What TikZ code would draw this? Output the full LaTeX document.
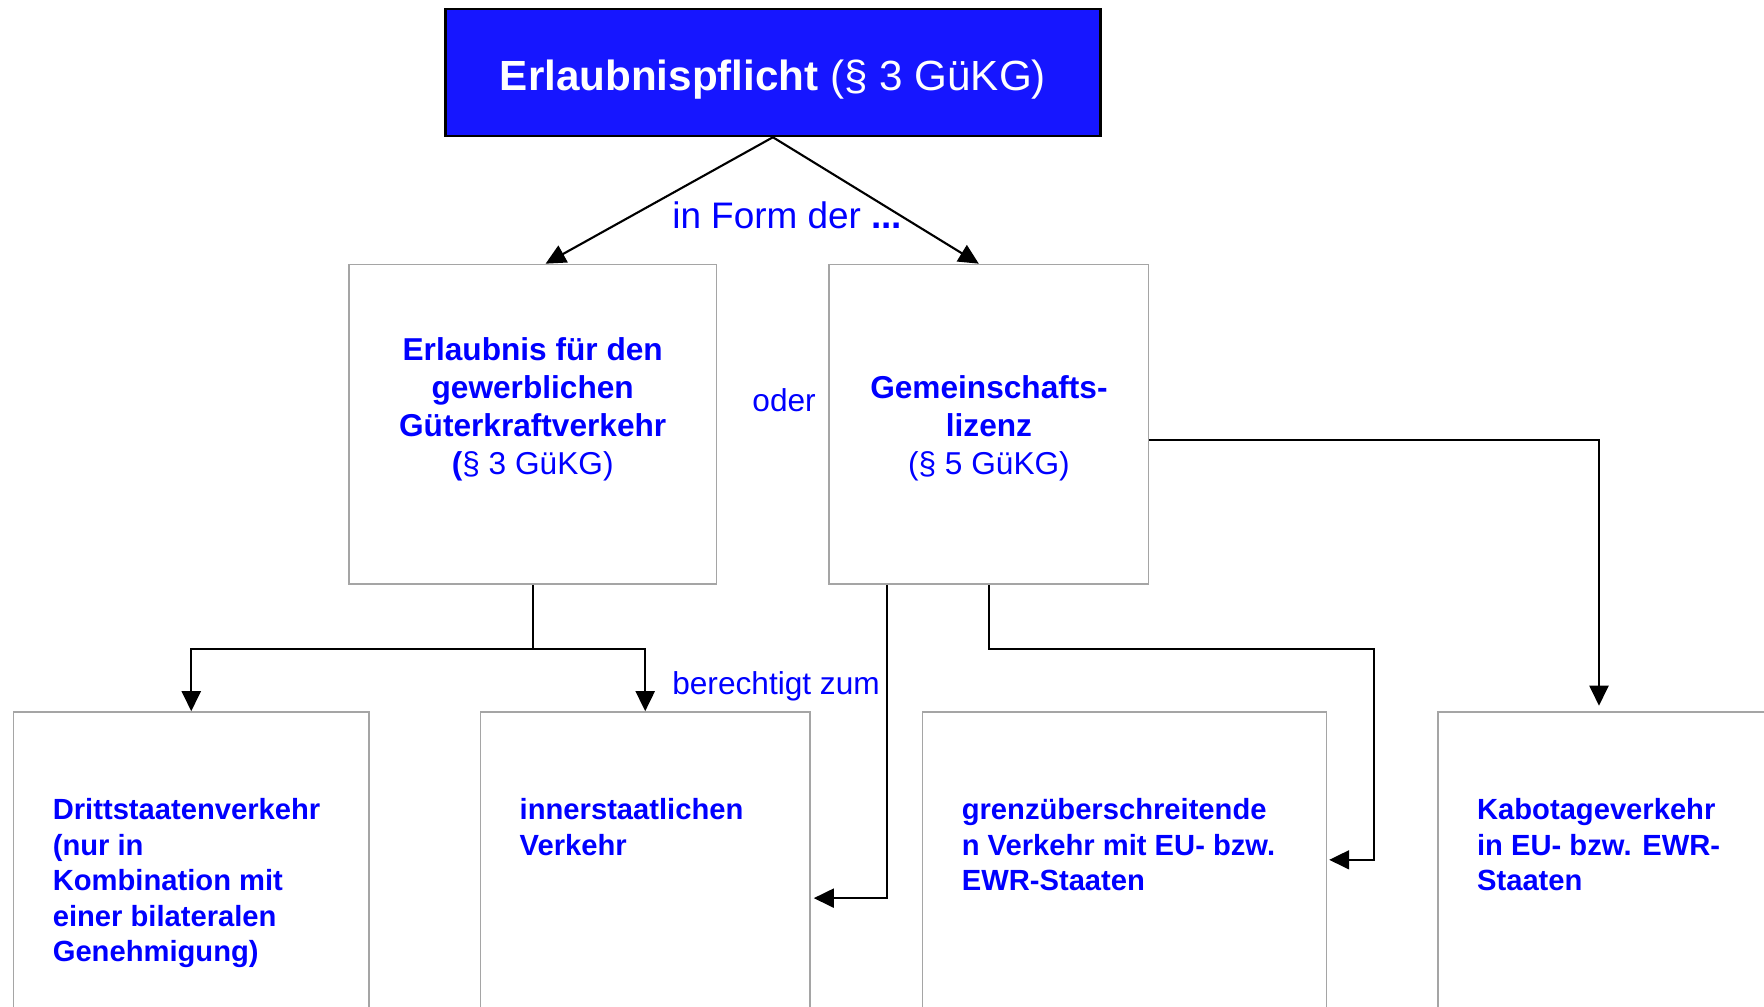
\documentclass[tikz,border=0pt]{standalone}
\usepackage{fontspec}
\setmainfont{Liberation Sans}
\usetikzlibrary{arrows.meta}
\definecolor{headblue}{RGB}{22,22,255}
\definecolor{textblue}{RGB}{0,0,255}
\definecolor{boxgray}{RGB}{165,165,165}
\pgfkeys{tikz/headbox/.style={draw=black, line width=0.7pt, fill=headblue, text=white,
                                  minimum width=6.55cm, minimum height=1.27cm, inner sep=0pt,
                                  text height=10pt, text depth=0pt,
                                  font=\fontsize{12pt}{14pt}\selectfont}}
\pgfkeys{tikz/graybox/.style={draw=boxgray, line width=0.45pt, fill=white, inner sep=0pt}}
\pgfkeys{tikz/midtext/.style={text=textblue, align=center, inner sep=0pt, anchor=north,
                                  font=\fontsize{9pt}{10.85pt}\selectfont}}
\pgfkeys{tikz/lowtext/.style={text=textblue, align=left, inner sep=0pt, anchor=north west,
                                  font=\bfseries\fontsize{8.3pt}{10.1pt}\selectfont}}
\pgfkeys{tikz/note/.style={text=textblue, inner sep=0pt,
                               font=\fontsize{9pt}{10.85pt}\selectfont}}
\pgfkeys{tikz/conn/.style={line width=0.6pt, -{Triangle[length=5.7pt,width=5.4pt]}}}

\begin{document}
\begin{tikzpicture}
                \useasboundingbox (0,0) rectangle (17.64,-10.06);
                \clip (0,0) rectangle (17.64,-10.06);

                \node[headbox] (pflicht) at (7.729,-0.725) {\textbf{Erlaubnispflicht} (§ 3 GüKG)};

                \node[graybox, minimum width=3.679cm, minimum height=3.195cm] (erlaubnis) at (5.327,-4.242) {};
                \node[graybox, minimum width=3.195cm, minimum height=3.195cm] (lizenz) at (9.889,-4.242) {};

                \node[midtext] (erlaubnislbl) at ([yshift=8.73mm]erlaubnis.center)
                    {\textbf{Erlaubnis für den}\\\textbf{gewerblichen}\\\textbf{Güterkraftverkehr}\\\textbf{(}§ 3 GüKG)};
                \node[midtext] (lizenzlbl) at ([yshift=4.92mm]lizenz.center)
                    {\textbf{Gemeinschafts-}\\\textbf{lizenz}\\(§ 5 GüKG)};

                \draw[conn] (pflicht.south) -- ([xshift=1.29mm]erlaubnis.north);
                \draw[conn] (pflicht.south) -- ([xshift=-1.01mm]lizenz.north);

                \node[note, anchor=base west, font=\fontsize{10.5pt}{12pt}\selectfont] (formlbl) at (6.716,-2.284) {in Form der \textbf{...}};
                \node[note, anchor=base] (oderlbl) at (7.841,-4.1175) {oder};

                \node[graybox, minimum width=3.555cm, minimum height=3.2cm] (dritt) at (1.9125,-8.72) {};
                \node[graybox, minimum width=3.296cm, minimum height=3.2cm] (inner) at (6.452,-8.72) {};
                \node[graybox, minimum width=4.039cm, minimum height=3.2cm] (grenz) at (11.2445,-8.72) {};
                \node[graybox, minimum width=3.5225cm, minimum height=3.2cm] (kabo) at (16.139,-8.72) {};

                \node[lowtext] (drittlbl) at ([xshift=3.94mm,yshift=-8.67mm]dritt.north west)
                    {Drittstaatenverkehr\\(nur in\\Kombination mit\\einer bilateralen\\Genehmigung)};
                \node[lowtext] (innerlbl) at ([xshift=3.94mm,yshift=-8.67mm]inner.north west)
                    {innerstaatlichen\\Verkehr};
                \node[lowtext] (grenzlbl) at ([xshift=3.94mm,yshift=-8.67mm]grenz.north west)
                    {grenzüberschreitende\\n Verkehr mit EU- bzw.\\EWR-Staaten};
                \node[lowtext] (kabolbl) at ([xshift=3.94mm,yshift=-8.67mm]kabo.north west)
                    {Kabotageverkehr\\in EU- bzw. EWR-\\Staaten};

                \coordinate (splitL) at ([yshift=-6.41mm]erlaubnis.south);
                \draw[line width=0.6pt] (erlaubnis.south) -- (splitL);
                \draw[conn] (splitL) -| (dritt.north);
                \draw[conn] (splitL) -| (inner.north);

                \node[note, anchor=base west] (zumlbl) at (6.716,-6.94) {berechtigt zum};

                \draw[conn] ([xshift=5.85mm]lizenz.south west) |- ([xshift=0.3mm,yshift=-18.69mm]inner.north east);
                \draw[conn] (lizenz.south) |- ++(3.847,-0.641) |- ([xshift=0.2mm,yshift=-14.86mm]grenz.north east);
                \draw[conn] ([yshift=-1.57mm]lizenz.east) -| ([xshift=16.2mm,yshift=0.55mm]kabo.north west);

\end{tikzpicture}
\end{document}
